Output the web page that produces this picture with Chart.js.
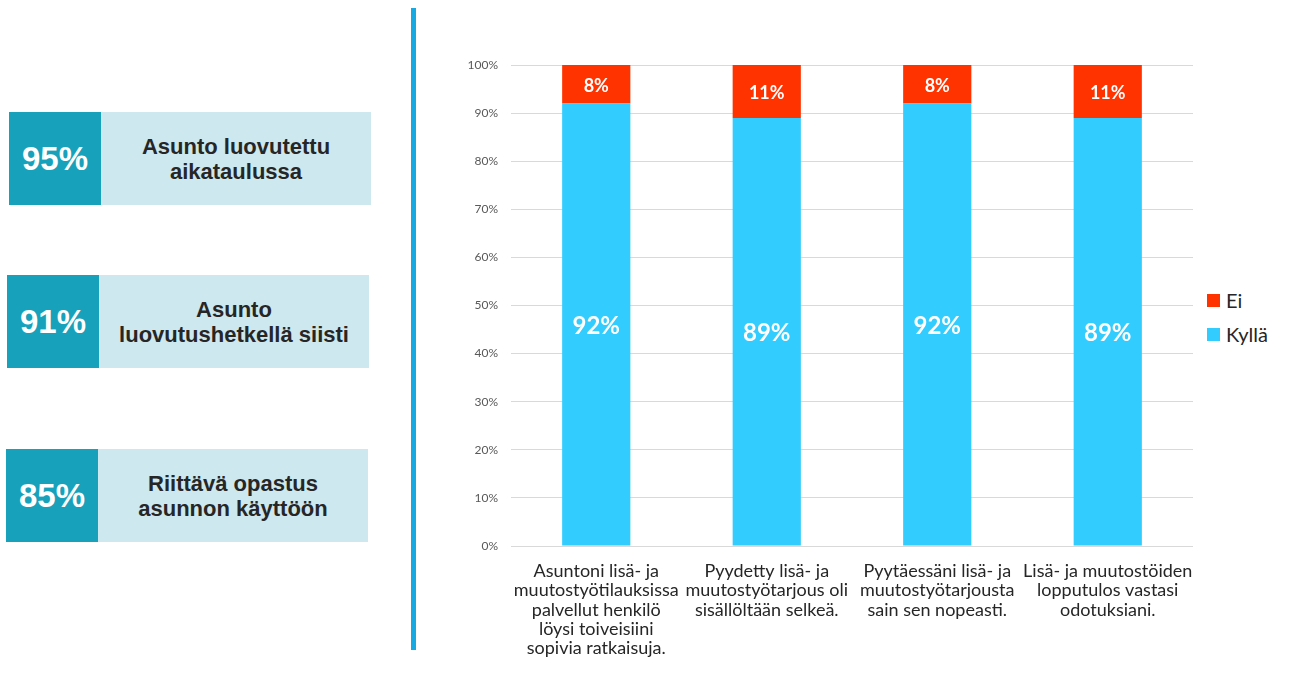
<!DOCTYPE html>
<html>
<head>
<meta charset="utf-8">
<script src="https://cdn.jsdelivr.net/npm/chart.js@4.4.0/dist/chart.umd.min.js"></script>
<style>
  html, body { margin:0; padding:0; background:#fff; width:1289px; height:675px; overflow:hidden; position:relative; }
  .box { position:absolute; height:93px; width:362px; background:#cde8ee; }
  .pct { position:absolute; left:0; top:0; width:92px; height:93px; background:#17a1bb; color:#fff;
         font:bold 33px "Liberation Sans", Arial, sans-serif; display:flex; align-items:center; justify-content:center; }
  .txt { position:absolute; left:92px; top:0; right:0; height:93px; color:#262626;
         font:bold 22px "Liberation Sans", Arial, sans-serif; line-height:25px; display:flex; align-items:center; justify-content:center; text-align:center; }
  #vline { position:absolute; left:411px; top:8px; width:5px; height:642px; background:#17a9e1; }
  #chartWrap { position:absolute; left:440px; top:40px; width:760px; height:635px; }
  .leg { position:absolute; left:1207px; height:24px; font:20px Lato, sans-serif; color:#262626; display:flex; align-items:center; }
  .leg span.sw { display:inline-block; width:13px; height:13px; margin-right:6px; }
</style>
</head>
<body>
<div class="box" style="left:9px; top:112px;"><div class="pct">95%</div><div class="txt">Asunto luovutettu<br>aikataulussa</div></div>
<div class="box" style="left:7px; top:275px;"><div class="pct">91%</div><div class="txt">Asunto<br>luovutushetkellä siisti</div></div>
<div class="box" style="left:6px; top:449px;"><div class="pct">85%</div><div class="txt">Riittävä opastus<br>asunnon käyttöön</div></div>
<div id="vline"></div>
<div id="chartWrap"><canvas id="c" width="760" height="635"></canvas></div>
<div class="leg" style="top:288px;"><span class="sw" style="background:#ff3300"></span>Ei</div>
<div class="leg" style="top:322px;"><span class="sw" style="background:#33ccff"></span>Kyllä</div>
<script>
const categories = [
  ["Asuntoni lisä- ja", "muutostyötilauksissa", "palvellut henkilö", "löysi toiveisiini", "sopivia ratkaisuja."],
  ["Pyydetty lisä- ja", "muutostyötarjous oli", "sisällöltään selkeä."],
  ["Pyytäessäni lisä- ja", "muutostyötarjousta", "sain sen nopeasti."],
  ["Lisä- ja muutostöiden", "lopputulos vastasi", "odotuksiani."]
];
const kylla = [92, 89, 92, 89];
const ei = [8, 11, 8, 11];
const yTicks = [0, 10, 20, 30, 40, 50, 60, 70, 80, 90, 100];

const labelPlugin = {
  id: 'barLabels',
  afterDatasetsDraw(chart) {
    const ctx = chart.ctx;
    ctx.save();
    ctx.fillStyle = '#ffffff';
    ctx.textAlign = 'center';
    ctx.textBaseline = 'middle';
    chart.data.datasets.forEach((ds, di) => {
      const meta = chart.getDatasetMeta(di);
      ctx.font = 'bold ' + (di === 0 ? 24 : 18) + 'px Lato, sans-serif';
      meta.data.forEach((bar, i) => {
        const p = bar.getProps(['x', 'y', 'base'], true);
        ctx.fillText(ds.data[i] + '%', p.x, (p.y + p.base) / 2 + 2);
      });
    });
    ctx.restore();
  }
};

new Chart(document.getElementById('c'), {
  type: 'bar',
  data: {
    labels: categories,
    datasets: [
      { label: 'Kyllä', data: kylla, backgroundColor: '#33ccff', barPercentage: 0.4, categoryPercentage: 1 },
      { label: 'Ei', data: ei, backgroundColor: '#ff3300', barPercentage: 0.4, categoryPercentage: 1 }
    ]
  },
  options: {
    responsive: false,
    animation: false,
    layout: { padding: { top: 25, right: 7, left: 0, bottom: 0 } },
    plugins: { legend: { display: false }, tooltip: { enabled: false } },
    scales: {
      x: {
        stacked: true,
        grid: { display: false, drawTicks: false },
        border: { display: false },
        ticks: { color: '#262626', font: { family: 'Lato', size: 18, lineHeight: 1.06 }, maxRotation: 0, autoSkip: false, padding: 16 },
        afterFit(s) { s.height = 129; s.paddingLeft = 0; s.paddingRight = 0; }
      },
      y: {
        stacked: true,
        min: 0, max: 100,
        afterBuildTicks(s) { s.ticks = yTicks.map(v => ({ value: v })); },
        grid: { color: '#d9d9d9', drawTicks: false },
        border: { display: false },
        ticks: { color: '#595959', font: { family: 'Lato', size: 12 }, padding: 13, callback: v => v + '%' },
        afterFit(s) { s.width = 71; s.paddingTop = 0; s.paddingBottom = 0; }
      }
    }
  },
  plugins: [labelPlugin]
});
</script>
</body>
</html>
